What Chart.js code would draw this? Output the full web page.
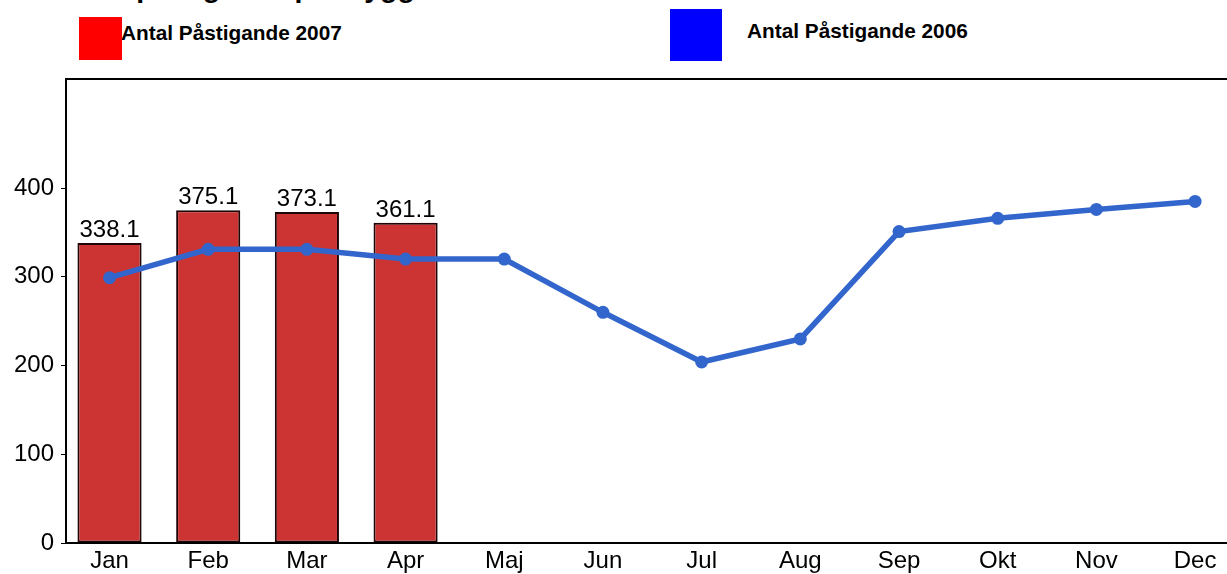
<!DOCTYPE html>
<html>
<head>
<meta charset="utf-8">
<script src="https://cdn.jsdelivr.net/npm/chart.js@4/dist/chart.umd.min.js"></script>
<style>
html,body{margin:0;padding:0;background:#fff;overflow:hidden;width:1227px;height:574px;}
#wrap{position:absolute;left:0;top:0;width:1245px;height:574px;}
.t{position:absolute;font-family:"Liberation Sans",Arial,sans-serif;color:#000;white-space:nowrap;}
.box{position:absolute;}
</style>
</head>
<body>
<div class="t" id="title" style="left:57px;top:-27px;font-size:28.5px;font-weight:bold;line-height:28px;">Antal påstigande per byggnad</div>
<div class="box" style="left:79px;top:17px;width:43px;height:43px;background:#ff0000;"></div>
<div class="t" style="left:121px;top:23px;font-size:20.8px;font-weight:bold;line-height:20.8px;">Antal Påstigande 2007</div>
<div class="box" style="left:670px;top:9px;width:52px;height:52px;background:#0000ff;"></div>
<div class="t" style="left:747px;top:21px;font-size:20.8px;font-weight:bold;line-height:20.8px;">Antal Påstigande 2006</div>
<div id="wrap"><canvas id="c" width="1245" height="574"></canvas></div>
<script>
const months = ["Jan","Feb","Mar","Apr","Maj","Jun","Jul","Aug","Sep","Okt","Nov","Dec"];
const values2007 = [338.1, 375.1, 373.1, 361.1, null, null, null, null, null, null, null, null];
const values2006 = [299, 331, 331, 320, 320, 260, 204, 230, 351, 366, 376, 385];
const yTicks = [0, 100, 200, 300, 400];

const FONT = "'Liberation Sans', Arial, sans-serif";

const barData = values2007.map((v, i) => ({x: i, y: v})).filter(p => p.y != null);
const lineData = values2006.map((v, i) => ({x: i, y: v}));

const framePlugin = {
  id: 'frame',
  afterDraw(chart) {
    const {ctx, chartArea: a} = chart;
    ctx.save();
    ctx.strokeStyle = '#000';
    ctx.lineWidth = 2;
    ctx.strokeRect(a.left, a.top, a.right - a.left, a.bottom - a.top);
    ctx.restore();
  }
};
const labelPlugin = {
  id: 'barLabels',
  afterDatasetsDraw(chart) {
    const {ctx} = chart;
    const meta = chart.getDatasetMeta(0);
    ctx.save();
    ctx.font = "24px " + FONT;
    ctx.fillStyle = '#000';
    ctx.textAlign = 'center';
    ctx.textBaseline = 'alphabetic';
    meta.data.forEach((el, i) => {
      const v = barData[i] && barData[i].y;
      if (v == null || !el) return;
      ctx.fillText(v.toFixed(1), el.x, el.y - 6);
    });
    ctx.restore();
  }
};

new Chart(document.getElementById('c'), {
  data: {
    datasets: [
      {
        type: 'bar',
        label: 'Antal Påstigande 2007',
        data: barData,
        backgroundColor: '#CC3333',
        borderColor: '#1f0505',
        borderWidth: 2,
        borderSkipped: false,
        categoryPercentage: 1,
        barPercentage: 0.65,
        order: 2
      },
      {
        type: 'line',
        label: 'Antal Påstigande 2006',
        data: lineData,
        borderColor: '#3366CC',
        backgroundColor: '#3366CC',
        borderWidth: 5.5,
        pointRadius: 6.5,
        pointHoverRadius: 6.5,
        pointBackgroundColor: '#3366CC',
        pointBorderWidth: 0,
        tension: 0,
        order: 1
      }
    ]
  },
  options: {
    responsive: false,
    animation: false,
    events: [],
    layout: {padding: {top: 79, right: 2, left: 0, bottom: 0}},
    plugins: {legend: {display: false}, tooltip: {enabled: false}, title: {display: false}},
    scales: {
      x: {
        type: 'linear',
        offset: false,
        min: -0.441,
        max: 11.44,
        afterBuildTicks(s) { s.ticks = months.map((m, i) => ({value: i})); },
        grid: {display: false, drawTicks: false, offset: false},
        border: {display: true, color: '#000', width: 2},
        ticks: {
          color: '#000', font: {family: FONT, size: 24}, padding: 4, maxRotation: 0, autoSkip: false,
          callback: (v) => months[v]
        },
        afterFit(s) { s.height = 31; }
      },
      y: {
        min: 0,
        max: 523,
        afterBuildTicks(s) { s.ticks = yTicks.map(v => ({value: v})); },
        grid: {display: true, drawOnChartArea: false, drawTicks: true, tickLength: 5, color: '#000', lineWidth: 1},
        border: {display: true, color: '#000', width: 2},
        ticks: {color: '#000', font: {family: FONT, size: 24}, padding: 7},
        afterFit(s) { s.width = 66; }
      }
    }
  },
  plugins: [framePlugin, labelPlugin]
});
</script>
</body>
</html>
